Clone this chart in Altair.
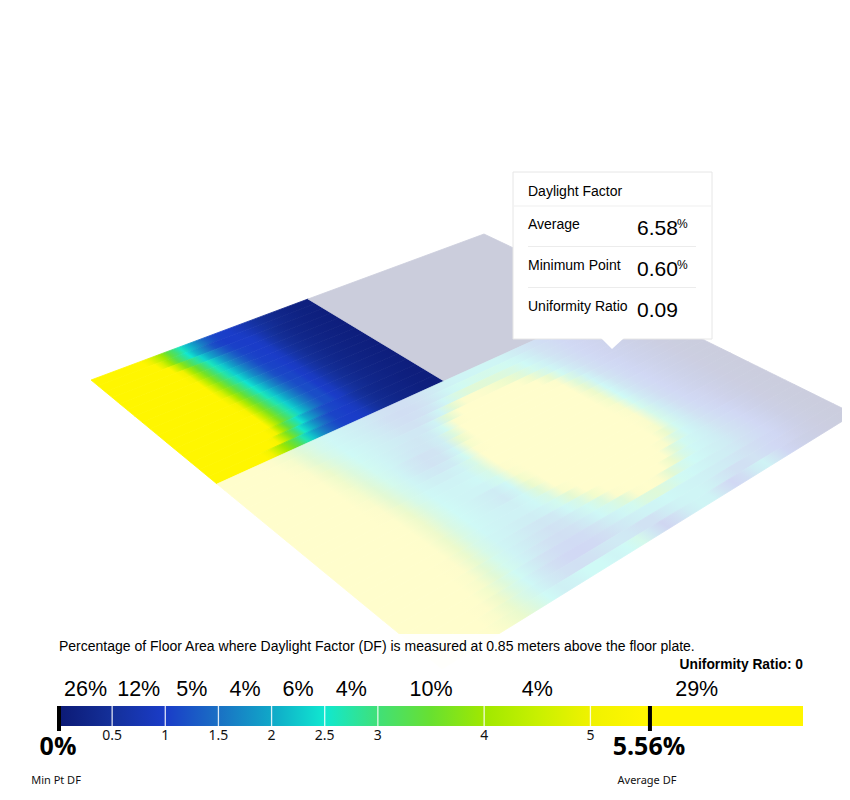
import altair as alt
import pandas as pd

STOPS = [0, .5, 1, 1.5, 2, 2.5, 3, 3.5, 4, 4.5, 5, 5.5, 7]
COLORS = ["#0c1a75", "#14309a", "#1a3cc8", "#1a70c4", "#10a8c8", "#10e8d0", "#40e078",
          "#68e030", "#a0e800", "#c8f000", "#f0f200", "#fff600", "#fff600"]
PALE = ["#cbccda", "#ccd0e6", "#d1d8f4", "#d1e2f3", "#cfeef4", "#cffaf6", "#d9f9e4",
        "#e1f9d6", "#ecfacc", "#f4fccc", "#fcfccc", "#fffdcc", "#fffdcc"]

ROOM_A = [
[6,6,6,6,6,6,6,6,5,4.5,4,3.4,3,2.6,2.2,1.9,1.6,1.35,1.15,1.05,1.02,1,.9,.8,.7,.6,.5,.42,.36,.3,.25,.21,.18,.15,.13,.12],
[6,6,6,6,6,6,6,6,6,4.7,3.95,3.35,2.9,2.5,2.1,1.8,1.5,1.2,1.07,1,1,1,.95,.85,.72,.6,.5,.42,.35,.29,.25,.21,.18,.15,.13,.12],
[6,6,6,6,6,6,6,6,6,5.6,4.5,3.75,3.2,2.8,2.35,2,1.7,1.4,1.17,1.05,1.02,1,1,.9,.72,.57,.45,.37,.3,.26,.22,.19,.16,.14,.12,.1],
[6,6,6,6,6,6,6,6,6,6,5.05,4.1,3.5,3,2.6,2.2,1.85,1.55,1.28,1.1,1.05,1,1,.9,.7,.55,.43,.36,.3,.26,.22,.19,.16,.14,.12,.1],
[6,6,6,6,6,6,6,6,6,6,5.2,4.25,3.6,3.1,2.65,2.27,1.93,1.6,1.33,1.13,1.05,1.02,1,.9,.7,.55,.43,.36,.3,.26,.22,.19,.16,.14,.12,.1],
[6,6,6,6,6,6,6,6,6,6,5.45,4.4,3.7,3.15,2.73,2.32,2,1.66,1.38,1.15,1.05,1.03,1,.9,.7,.55,.43,.36,.3,.26,.22,.19,.16,.14,.12,.1],
[6,6,6,6,6,6,6,6,6,6,5.7,4.55,3.8,3.25,2.8,2.4,2.05,1.7,1.43,1.18,1.08,1.05,1,.9,.7,.55,.43,.36,.3,.26,.22,.19,.16,.14,.12,.1],
[6,6,6,6,6,6,6,6,6,6,6,4.7,3.9,3.35,2.9,2.47,2.1,1.78,1.48,1.2,1.1,1.07,1,.9,.7,.55,.43,.36,.3,.26,.22,.19,.16,.14,.12,.1],
[6,6,6,6,6,6,6,6,6,6,6,4.9,4.05,3.45,2.95,2.55,2.18,1.82,1.53,1.26,1.12,1.1,1,.9,.7,.55,.43,.36,.3,.26,.22,.19,.16,.14,.12,.1],
[6,6,6,6,6,6,6,6,6,6,6,5.15,4.2,3.55,3.05,2.63,2.25,1.9,1.58,1.32,1.15,1.12,1,.9,.7,.55,.43,.36,.3,.26,.22,.19,.16,.14,.12,.1],
[6,6,6,6,6,6,6,6,6,6,6,5.3,4.3,3.65,3.1,2.7,2.3,1.95,1.63,1.36,1.16,1.14,1,.9,.7,.55,.43,.36,.3,.26,.22,.19,.16,.14,.12,.1],
[6,6,6,6,6,6,6,6,6,6,6,5.45,4.4,3.7,3.15,2.75,2.33,2,1.66,1.39,1.17,1.15,1,.9,.7,.55,.43,.36,.3,.26,.22,.19,.16,.14,.12,.1],
[6,6,6,6,6,6,6,6,6,6,6,5.45,4.4,3.7,3.15,2.75,2.33,2,1.66,1.39,1.17,1.15,1,.9,.7,.55,.43,.36,.3,.26,.22,.19,.16,.14,.12,.1],
[6,6,6,6,6,6,6,6,6,6,6,5.1,4.1,3.4,2.9,2.45,2.05,1.75,1.45,1.2,1.1,1.05,.95,.82,.62,.48,.38,.32,.27,.23,.2,.17,.14,.12,.1,.1],
[6,6,6,6,6,6,6,6,6,6,5.3,4.4,3.7,3.1,2.55,2.15,1.8,1.5,1.25,1.08,1.05,1,.95,.82,.62,.48,.38,.32,.27,.23,.2,.17,.14,.12,.1,.1],
[6,6,6,6,6,6,6,6,5.1,4.5,4,3.6,3.2,2.7,2.25,1.9,1.6,1.35,1.15,1.05,1.02,1,.95,.82,.62,.48,.38,.32,.27,.23,.2,.17,.14,.12,.1,.1],
]

MAIN_ZONE = [
[6,6,5.8,5.2,4.4,3.4,2.8,2.4,2.2,2.0,1.8,1.55,1.4,1.4,1.6,1.85,2.1,2.25,2.3,2.35,2.35,2.3,2.1,1.8,1.5,1.25,1.05,.9,.75,.6,.45,.3,.2,.15],
[6,6,5.9,5.4,4.6,3.5,2.8,2.4,2.2,2.0,1.75,1.45,1.3,1.35,1.6,1.95,2.35,2.6,2.75,2.8,2.75,2.6,2.35,1.95,1.55,1.3,1.05,.9,.75,.6,.45,.3,.2,.15],
[6,6,6,5.5,4.8,3.6,2.9,2.45,2.25,2.05,1.8,1.5,1.35,1.45,1.75,2.35,3.0,3.4,3.5,3.4,3.2,2.95,2.5,2.05,1.6,1.3,1.05,.9,.75,.6,.45,.3,.2,.15],
[6,6,6,5.7,5.0,3.8,3.0,2.5,2.3,2.1,1.85,1.6,1.5,1.7,2.3,3.6,5.0,5.2,4.8,4.4,3.9,3.3,2.7,2.15,1.65,1.3,1.05,.9,.75,.6,.45,.3,.2,.15],
[6,6,6,5.8,5.2,4.0,3.1,2.55,2.3,2.1,1.9,1.75,1.75,2.2,3.6,5.6,6,6,6,5.8,5.4,4.3,3.1,2.3,1.75,1.35,1.05,.9,.75,.6,.45,.3,.2,.15],
[6,6,6,5.9,5.4,4.2,3.2,2.6,2.3,2.05,1.85,1.7,1.9,2.6,5.0,6,6,6,6,6,6,5.8,3.9,2.6,1.85,1.4,1.1,.9,.75,.6,.45,.3,.2,.15],
[6,6,6,6,5.5,4.3,3.3,2.65,2.3,2.0,1.75,1.7,2.0,3.2,5.6,6,6,6,6,6,6,6,5.0,3.0,2.0,1.45,1.1,.9,.75,.6,.45,.3,.2,.15],
[6,6,6,6,5.6,4.5,3.4,2.7,2.25,1.85,1.55,1.6,2.1,3.9,5.9,6,6,6,6,6,6,6,5.6,3.4,2.2,1.5,1.15,.95,.75,.6,.45,.3,.2,.15],
[6,6,6,6,5.7,4.6,3.5,2.75,2.25,1.8,1.55,1.65,2.3,4.6,6,6,6,6,6,6,6,6,5.8,3.7,2.3,1.6,1.2,.95,.75,.6,.45,.3,.2,.15],
[6,6,6,6,5.8,4.8,3.6,2.8,2.3,1.9,1.75,1.9,2.6,5.2,6,6,6,6,6,6,6,6,5.9,4.0,2.4,1.65,1.2,.95,.8,.6,.45,.3,.2,.15],
[6,6,6,6,5.8,5.0,3.7,2.85,2.35,2.1,2.05,2.2,2.9,5.5,6,6,6,6,6,6,6,6,6,4.2,2.45,1.7,1.25,1,.8,.6,.45,.3,.2,.15],
[6,6,6,6,5.9,5.2,3.9,2.9,2.4,2.25,2.2,2.35,3.0,5.5,6,6,6,6,6,6,6,6,6,4.4,2.5,1.75,1.25,1,.8,.6,.45,.3,.2,.15],
[6,6,6,6,5.9,5.3,4.0,3.0,2.45,2.3,2.3,2.4,2.9,5.2,6,6,6,6,6,6,6,6,6,4.7,2.6,1.8,1.3,1,.8,.6,.45,.3,.2,.15],
[6,6,6,6,5.9,5.4,4.1,3.05,2.5,2.3,2.25,2.25,2.7,4.8,6,6,6,6,6,6,6,6,6,4.9,2.7,1.85,1.3,1,.8,.6,.45,.3,.2,.15],
[6,6,6,6,5.9,5.4,4.1,3.05,2.5,2.3,2.1,1.9,2.4,4.4,5.9,6,6,6,6,6,6,6,6,5.0,2.8,1.9,1.35,1.05,.8,.6,.45,.3,.2,.15],
[6,6,6,6,5.9,5.4,4.1,3.0,2.5,2.3,2.1,1.85,2.35,3.9,5.8,6,6,6,6,6,6,6,6,4.9,2.8,1.95,1.4,1.05,.85,.65,.45,.3,.2,.15],
[6,6,6,6,5.9,5.4,4.0,3.0,2.45,2.3,2.15,2.1,2.4,3.4,5.5,6,6,6,6,6,6,6,5.9,4.6,2.75,2,1.45,1.1,.85,.65,.45,.3,.2,.15],
[6,6,6,6,5.9,5.3,4.0,2.95,2.4,2.25,2.15,2.15,2.4,2.95,4.8,5.9,6,6,6,6,6,6,5.7,3.9,2.6,2,1.5,1.15,.9,.65,.45,.3,.2,.15],
[6,6,6,6,5.8,5.2,3.9,2.9,2.35,2.2,2.05,2.0,2.2,2.7,3.7,5.6,6,6,6,6,6,5.9,4.8,3.1,2.4,2,1.55,1.2,.95,.7,.5,.3,.2,.15],
[6,6,6,6,5.8,5.1,3.8,2.85,2.3,2.1,1.85,1.7,1.85,2.4,2.95,4.4,5.9,6,6,6,6,5.4,3.4,2.6,2.3,2,1.6,1.25,1,.7,.5,.3,.2,.15],
[6,6,6,6,5.7,4.9,3.6,2.75,2.25,1.95,1.7,1.5,1.65,2.1,2.6,3.2,5.0,6,6,6,5.7,4.0,2.9,2.4,2.2,1.95,1.6,1.3,1,.75,.5,.35,.2,.15],
[6,6,6,5.9,5.6,4.7,3.5,2.7,2.2,1.85,1.5,1.35,1.5,1.9,2.4,2.8,3.4,5.0,5.6,5.0,3.6,2.8,2.5,2.3,2.1,1.9,1.6,1.3,1,.75,.5,.35,.2,.15],
[6,6,6,5.8,5.4,4.4,3.3,2.55,2.0,1.55,1.25,1.15,1.25,1.6,2.0,2.35,2.7,3.2,3.4,3.0,2.6,2.4,2.25,2.1,2,1.8,1.5,1.25,1,.75,.5,.35,.2,.15],
[6,6,6,5.6,5.1,4.1,3.1,2.4,1.85,1.35,1.05,1.0,1.1,1.4,1.75,2.0,2.2,2.3,2.4,2.35,2.25,2.15,2.05,1.9,1.75,1.55,1.3,1.1,.95,.7,.5,.35,.2,.15],
[6,6,5.9,5.5,4.8,3.9,3.0,2.35,1.85,1.5,1.4,1.5,1.7,1.85,1.75,1.5,1.5,1.9,2.2,2.3,2.3,2.1,1.75,1.45,1.4,1.55,1.25,1.0,.85,.65,.45,.3,.2,.15],
[6,6,5.8,5.3,4.6,3.9,3.1,2.5,2.1,2.2,2.5,2.5,2.3,2.5,2.8,1.7,.9,1.4,2.0,2.3,2.2,1.6,1.0,1.3,1.9,2.2,1.6,.95,.7,.55,.4,.3,.2,.15],
]

GRAY_ROOM = [[.1, .1]]

LEGEND_TICKS = [.5, 1, 1.5, 2, 2.5, 3, 4, 5]
TICK_TEXT = ["0.5", "1", "1.5", "2", "2.5", "3", "4", "5"]
BIN_MIDS = [.25, .75, 1.25, 1.75, 2.25, 2.75, 3.5, 4.5, 6]
BIN_SHARES = ["26%", "12%", "5%", "4%", "6%", "4%", "10%", "4%", "29%"]
MIN_DF, AVG_DF = 0, 5.56

ROOM_A_CORNERS = [(91, 380), (308, 299), (444, 381), (217, 484)]
MAIN_CORNERS = [(217, 484), (623, 300), (854, 414), (442, 669)]
GRAY_CORNERS = [(308, 299), (484, 234), (623, 300), (444, 381)]


def homography(q):
    (x0, y0), (x1, y1), (x2, y2), (x3, y3) = q
    sx, sy = x0 - x1 + x2 - x3, y0 - y1 + y2 - y3
    dx1, dx2, dy1, dy2 = x1 - x2, x3 - x2, y1 - y2, y3 - y2
    den = dx1 * dy2 - dx2 * dy1
    g = (sx * dy2 - dx2 * sy) / den
    h = (dx1 * sy - sx * dy1) / den
    def f(a, b):
        w = 1 + g * a + h * b
        return ((x0 + (x1 - x0 + g * x1) * a + (x3 - x0 + h * x3) * b) / w,
                (y0 + (y1 - y0 + g * y1) * a + (y3 - y0 + h * y3) * b) / w)
    return f


def colour(v, colors):
    for k in range(len(STOPS) - 1):
        if v <= STOPS[k + 1]:
            t = (v - STOPS[k]) / (STOPS[k + 1] - STOPS[k])
            c0 = [int(colors[k][i:i + 2], 16) for i in (1, 3, 5)]
            c1 = [int(colors[k + 1][i:i + 2], 16) for i in (1, 3, 5)]
            return "#%02x%02x%02x" % tuple(round(p + (q - p) * t) for p, q in zip(c0, c1))
    return colors[-1]


def geo(rings):
    return alt.InlineData(values={"type": "FeatureCollection", "features": [
        {"type": "Feature", "properties": {},
         "geometry": {"type": "Polygon", "coordinates": [[list(p) for p in r]]}} for r in rings]},
        format=alt.DataFormat(type="json", property="features"))


def strip(row, j, nb, f, colors):
    """One row of the grid: a quad whose fill is a gradient running through the row's values."""
    b0, b1, bm = j / nb, (j + 1) / nb, (j + .5) / nb
    na = len(row)
    ring = [f(0, b0), f(0, b1), f(1, b1), f(1, b0), f(0, b0)]
    xs, ys = [p[0] for p in ring], [p[1] for p in ring]
    x0, y0, w, h = min(xs), min(ys), max(xs) - min(xs), max(ys) - min(ys)
    n = lambda p: ((p[0] - x0) / w, (p[1] - y0) / h)
    start, end = n(f(0, bm)), n(f(1, bm))
    t0, t1 = n(f(.42, b0)), n(f(.42, b1))
    dx, dy = t1[0] - t0[0], t1[1] - t0[1]
    L = (dx * dx + dy * dy) ** .5
    nx, ny = dy / L, -dx / L
    proj_len = (end[0] - start[0]) * nx + (end[1] - start[1]) * ny
    vx, vy = nx * proj_len, ny * proj_len
    stops = []
    for i, v in enumerate(row):
        p = n(f((i + .5) / na, bm))
        off = ((p[0] - start[0]) * nx + (p[1] - start[1]) * ny) / proj_len
        stops.append(alt.GradientStop(color=colour(v, colors), offset=max(0, min(1, off))))
    grad = alt.Gradient(gradient="linear", x1=start[0], y1=start[1],
                        x2=start[0] + vx, y2=start[1] + vy, stops=stops)
    return alt.Chart(geo([ring])).mark_geoshape(fill=grad, stroke=grad, strokeWidth=.8).project(
        type="identity", scale=1, translate=[-8, -8])


def zone(grid, corners, colors):
    f = homography(corners)
    return [strip(row, j, len(grid), f, colors) for j, row in enumerate(grid)]


ONE = pd.DataFrame({"k": [0]})


def txt(t, x, y, size, font="Liberation Sans", align="left", weight="normal", color="#000000"):
    return alt.Chart(ONE).mark_text(text=t, font=font, fontSize=size, align=align,
                                    baseline="alphabetic", fontWeight=weight, color=color).encode(
        x=alt.value(x - 8), y=alt.value(y - 8))


def box(x, x2, y, y2, color, **kw):
    return alt.Chart(ONE).mark_rect(color=color, **kw).encode(
        x=alt.value(x - 8), x2=alt.value(x2 - 8), y=alt.value(y - 8), y2=alt.value(y2 - 8))


lx = alt.Scale(domain=[0, 7], range=[51, 795])
X = alt.X("v:Q", scale=lx, axis=None)
bar = alt.Chart(pd.DataFrame({"v": [0], "b": [7]})).mark_rect(
    fill=alt.Gradient(gradient="linear", x1=0, x2=1, y1=0, y2=0,
                      stops=[alt.GradientStop(color=c, offset=s / 7) for s, c in zip(STOPS, COLORS)])
).encode(x=X, x2="b:Q", y=alt.value(698), y2=alt.value(718))
ticks = alt.Chart(pd.DataFrame({"v": LEGEND_TICKS})).mark_rule(color="#ffffff", strokeWidth=1.3, opacity=.85).encode(
    x=X, y=alt.value(698), y2=alt.value(718))
tick_labels = alt.Chart(pd.DataFrame({"v": LEGEND_TICKS, "t": TICK_TEXT})).mark_text(
    font="Noto Sans", fontSize=14, baseline="alphabetic", align="center", color="#111111").encode(
    x=X, y=alt.value(732), text="t:N")
shares = alt.Chart(pd.DataFrame({"v": BIN_MIDS, "t": BIN_SHARES})).mark_text(
    font="Liberation Sans", fontSize=21.5, baseline="alphabetic", align="center", color="#000000").encode(
    x=X, y=alt.value(688), text="t:N")
markers = alt.Chart(pd.DataFrame({"v": [MIN_DF, AVG_DF]})).mark_rule(color="#000000", strokeWidth=4).encode(
    x=X, y=alt.value(698), y2=alt.value(723))
marker_labels = alt.Chart(pd.DataFrame({"v": [MIN_DF, AVG_DF], "t": ["0%", "5.56%"]})).mark_text(
    font="Open Sans", fontSize=25, fontWeight="bold", baseline="alphabetic", align="center", color="#000000", dx=-1).encode(
    x=X, y=alt.value(747), text="t:N")
marker_names = alt.Chart(pd.DataFrame({"v": [MIN_DF, AVG_DF], "t": ["Min Pt DF", "Average DF"]})).mark_text(
    font="Noto Sans", fontSize=11, baseline="alphabetic", align="center", color="#111111", dx=-3).encode(
    x=X, y=alt.value(776), text="t:N")

arrow = alt.Chart(geo([[(601, 338), (612, 349), (624, 338), (601, 338)]])).mark_geoshape(
    fill="#ffffff", strokeWidth=0).project(type="identity", scale=1, translate=[-8, -8])

layers = zone(ROOM_A, ROOM_A_CORNERS, COLORS) + zone(GRAY_ROOM, GRAY_CORNERS, PALE) + zone(MAIN_ZONE, MAIN_CORNERS, PALE) + [
    box(0, 850, 634, 800, "#ffffff", opacity=.93),
    box(513, 712, 172, 339, "#ffffff", stroke="#e6e6e6", strokeWidth=1),
    arrow,
    box(514, 711, 205.5, 206.5, "#f0f0f0"),
    box(528, 696, 246, 247, "#ececec"),
    box(528, 696, 287, 288, "#ececec"),
    txt("Daylight Factor", 528, 196, 14),
    txt("Average", 528, 229, 14),
    txt("Minimum Point", 528, 270, 14),
    txt("Uniformity Ratio", 528, 311, 14),
    txt("6.58", 637, 235, 21),
    txt("0.60", 637, 276, 21),
    txt("0.09", 637, 317, 21),
    txt("%", 677, 228, 12),
    txt("%", 677, 269, 12),
    txt("Percentage of Floor Area where Daylight Factor (DF) is measured at 0.85 meters above the floor plate.", 59, 651, 14),
    txt("Uniformity Ratio: 0", 803, 669, 13.8, align="right", weight="bold"),
    bar, ticks, markers, shares, tick_labels, marker_labels, marker_names,
]

chart = alt.layer(*layers).properties(
    width=834, height=780, padding=0, autosize=alt.AutoSizeParams(type="none")
).configure_view(stroke=None)

chart.save("out.html", embed_options={"renderer": "svg", "actions": False})
